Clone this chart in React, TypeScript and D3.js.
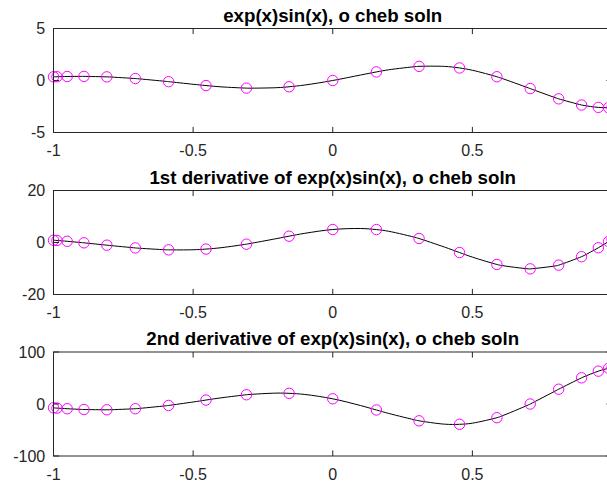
import * as d3 from 'd3';
import React from 'react';

// sample grid for the solid curve
const gridX = [-1, -0.9, -0.8, -0.7, -0.6, -0.5, -0.4, -0.3, -0.2, -0.1, 0, 0.1, 0.2, 0.3, 0.4, 0.5, 0.6, 0.7, 0.8, 0.9, 1];
const gridF = [0.353, 0.397, 0.340, 0.174, -0.078, -0.363, -0.610, -0.739, -0.689, -0.434, 0, 0.530, 1.028, 1.347, 1.357, 0.987, 0.257, -0.706, -1.684, -2.404, -2.607];
const gridD1 = [0.875, -0.031, -1.129, -2.151, -2.794, -2.793, -2.004, -0.477, 1.523, 3.537, 5, 5.379, 4.327, 1.824, -1.748, -5.618, -8.762, -10.135, -8.958, -4.997, 1.249];
const gridD2 = [-7.42, -10.40, -11.10, -8.83, -3.57, 3.85, 11.84, 18.26, 20.96, 18.35, 10, -3.02, -18.07, -31.36, -38.77, -36.89, -24.21, -1.91, 25.88, 52.52, 70.27];

// chebyshev points (o markers)
const chebX = [-1, -0.98769, -0.95106, -0.89101, -0.80902, -0.70711, -0.58779, -0.45399, -0.30902, -0.15643, 0, 0.15643, 0.30902, 0.45399, 0.58779, 0.70711, 0.80902, 0.89101, 0.95106, 0.98769, 1];
const chebF = [0.353, 0.363, 0.386, 0.397, 0.350, 0.189, -0.112, -0.486, -0.734, -0.603, 0, 0.824, 1.362, 1.205, 0.362, -0.779, -1.764, -2.357, -2.586, -2.617, -2.607];
const chebD1 = [0.875, 0.780, 0.469, -0.125, -1.028, -2.087, -2.833, -2.530, -0.640, 2.431, 5, 4.972, 1.537, -3.862, -8.454, -10.142, -8.713, -5.460, -2.031, 0.392, 1.249];
const chebD2 = [-7.42, -7.88, -9.10, -10.57, -11.15, -9.10, -2.76, 7.58, 17.80, 20.53, 10, -11.49, -32.33, -39.06, -26.33, -0.05, 28.44, 50.37, 63.18, 68.82, 70.27];

const titles = [
  'exp(x)sin(x), o cheb soln',
  '1st derivative of exp(x)sin(x), o cheb soln',
  '2nd derivative of exp(x)sin(x), o cheb soln',
];
const yLimits = [5, 20, 100];
const xTicks = [-1, -0.5, 0, 0.5, 1];

const W = 607;
const H = 482;
const left = 53.5;
const right = 612; // x = 1 sits just past the picture's right edge
const tops = [28.5, 190.5, 352];
const plotH = 104;
const tickLen = 5.6;
const axisColor = '#262626';
const font = "Arial, 'Liberation Sans', Helvetica, sans-serif";

const Panel: React.FC<{ idx: number }> = ({ idx }) => {
  const top = tops[idx];
  const bottom = top + plotH;
  const lim = yLimits[idx];
  const gy = [gridF, gridD1, gridD2][idx];
  const cy = [chebF, chebD1, chebD2][idx];

  const x = d3.scaleLinear().domain([-1, 1]).range([left, right]);
  const y = d3.scaleLinear().domain([-lim, lim]).range([bottom, top]);
  const yTicks = [-lim, 0, lim];

  // merge grid and cheb samples for a smoother curve
  const pts: [number, number][] = [
    ...gridX.map((v, i) => [v, gy[i]] as [number, number]),
    ...chebX.map((v, i) => [v, cy[i]] as [number, number]),
  ]
    .sort((a, b) => a[0] - b[0])
    .filter((p, i, arr) => i === 0 || Math.abs(p[0] - arr[i - 1][0]) > 1e-4);

  const line = d3.line<[number, number]>()
    .x(d => x(d[0]))
    .y(d => y(d[1]))
    .curve(d3.curveCatmullRom.alpha(0.5));

  return (
    <g>
      <text
        x={(left + right) / 2}
        y={top - 7}
        textAnchor="middle"
        fontFamily={font}
        fontWeight="bold"
        fontSize={18.7}
        fill="#000"
      >
        {titles[idx]}
      </text>
      <path d={line(pts) || ''} fill="none" stroke="#000" strokeWidth={1} />
      {chebX.map((v, i) => (
        <circle key={i} cx={x(v)} cy={y(cy[i])} r={5.2} fill="none" stroke="#ff00ff" strokeWidth={1} />
      ))}
      <rect x={left} y={top} width={right - left} height={plotH} fill="none" stroke={axisColor} strokeWidth={1} />
      {xTicks.map(t => (
        <g key={t}>
          <line x1={x(t)} x2={x(t)} y1={bottom} y2={bottom - tickLen} stroke={axisColor} />
          <line x1={x(t)} x2={x(t)} y1={top} y2={top + tickLen} stroke={axisColor} />
          {x(t) < W - 4 && (
            <text x={x(t)} y={bottom + 23.5} textAnchor="middle" fontFamily={font} fontSize={16} fill={axisColor}>
              {String(t)}
            </text>
          )}
        </g>
      ))}
      {yTicks.map(t => (
        <g key={t}>
          <line x1={left} x2={left + tickLen} y1={y(t)} y2={y(t)} stroke={axisColor} />
          <line x1={right} x2={right - tickLen} y1={y(t)} y2={y(t)} stroke={axisColor} />
          <text x={left - 8.3} y={y(t) + 5.7} textAnchor="end" fontFamily={font} fontSize={16} fill={axisColor}>
            {String(t)}
          </text>
        </g>
      ))}
    </g>
  );
};

export default function App() {
  return (
    <svg
      width={W}
      height={H}
      style={{ position: 'absolute', left: 0, top: 0, background: '#fff' }}
    >
      <rect width={W} height={H} fill="#fff" />
      {[0, 1, 2].map(i => (
        <Panel key={i} idx={i} />
      ))}
    </svg>
  );
}
